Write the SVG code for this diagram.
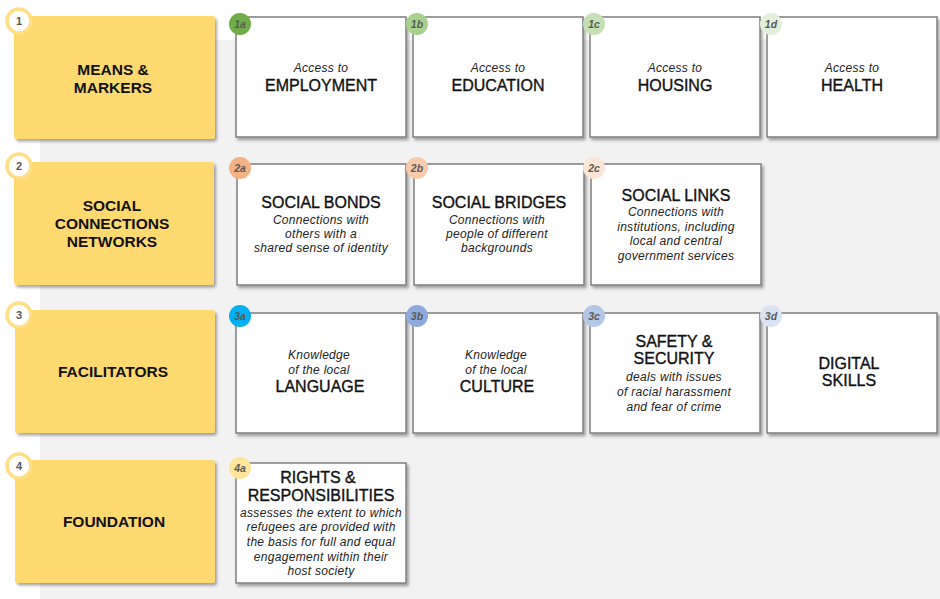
<svg xmlns="http://www.w3.org/2000/svg" width="940" height="599" viewBox="0 0 940 599">
  <defs>
    <filter id="shadow" x="-10%" y="-10%" width="125%" height="130%">
      <feDropShadow dx="2" dy="2.5" stdDeviation="1.5" flood-color="#000" flood-opacity="0.35"/>
    </filter>
    <style>
      .bg { fill: #f2f2f2; }
      .pillar { fill: #fdd96f; filter: url(#shadow); }
      .card { fill: #ffffff; stroke: #7f7f7f; stroke-width: 1.5; filter: url(#shadow); }
      .num { fill: #ffffff; stroke: #fedf86; stroke-width: 3.5; }
      .num-t { font-family: "Liberation Sans", Arial, sans-serif; font-size: 11px; font-weight: bold; fill: #595959; text-anchor: middle; }
      .tag-t { font-family: "Liberation Sans", Arial, sans-serif; font-size: 10.5px; font-weight: bold; font-style: italic; fill: #595959; text-anchor: middle; }
      .pillar-t { font-family: "Liberation Sans", Arial, sans-serif; font-size: 15.5px; font-weight: bold; fill: #111; text-anchor: middle; }
      .head { font-family: "Liberation Sans", Arial, sans-serif; font-size: 16px; fill: #111; stroke: #111; stroke-width: 0.35; text-anchor: middle; }
      .sub { font-family: "Liberation Sans", Arial, sans-serif; font-size: 12px; letter-spacing: 0.3px; font-style: italic; fill: #222; text-anchor: middle; }
    </style>
  </defs>

  <rect class="bg" x="40" y="40" width="900" height="559"/>

  <!-- Row 1: Means & Markers -->
  <g id="pillar-1">
    <rect class="pillar" x="14" y="16" width="201" height="123" rx="3"/>
    <circle class="num" cx="19" cy="21" r="12"/>
    <text class="num-t" x="19" y="25">1</text>
    <text class="pillar-t" x="113" y="75">MEANS &amp;</text>
    <text class="pillar-t" x="113" y="93">MARKERS</text>
  </g>
  <g id="domain-1a">
    <rect class="card" x="236" y="17" width="170" height="120"/>
    <circle cx="240" cy="24" r="11" fill="#70ad47"/>
    <text class="tag-t" x="240" y="27.5">1a</text>
    <text class="sub" x="321" y="72">Access to</text>
    <text class="head" x="321" y="91">EMPLOYMENT</text>
  </g>
  <g id="domain-1b">
    <rect class="card" x="413" y="17" width="170" height="120"/>
    <circle cx="417" cy="24" r="11" fill="#a9d18e"/>
    <text class="tag-t" x="417" y="27.5">1b</text>
    <text class="sub" x="498" y="72">Access to</text>
    <text class="head" x="498" y="91">EDUCATION</text>
  </g>
  <g id="domain-1c">
    <rect class="card" x="590" y="17" width="170" height="120"/>
    <circle cx="594" cy="24" r="11" fill="#c5e0b4"/>
    <text class="tag-t" x="594" y="27.5">1c</text>
    <text class="sub" x="675" y="72">Access to</text>
    <text class="head" x="675" y="91">HOUSING</text>
  </g>
  <g id="domain-1d">
    <rect class="card" x="767" y="17" width="170" height="120"/>
    <circle cx="771" cy="24" r="11" fill="#e2f0d9"/>
    <text class="tag-t" x="771" y="27.5">1d</text>
    <text class="sub" x="852" y="72">Access to</text>
    <text class="head" x="852" y="91">HEALTH</text>
  </g>

  <!-- Row 2: Social connections -->
  <g id="pillar-2">
    <rect class="pillar" x="14" y="162" width="200" height="123" rx="3"/>
    <circle class="num" cx="19" cy="166" r="12"/>
    <text class="num-t" x="19" y="170">2</text>
    <text class="pillar-t" x="112" y="211">SOCIAL</text>
    <text class="pillar-t" x="112" y="229">CONNECTIONS</text>
    <text class="pillar-t" x="112" y="247">NETWORKS</text>
  </g>
  <g id="domain-2a">
    <rect class="card" x="237" y="164" width="169" height="121"/>
    <circle cx="240" cy="168" r="11" fill="#f4b183"/>
    <text class="tag-t" x="240" y="171.5">2a</text>
    <text class="head" x="321" y="208">SOCIAL BONDS</text>
    <text class="sub" x="321" y="224">Connections with</text>
    <text class="sub" x="321" y="238">others with a</text>
    <text class="sub" x="321" y="252">shared sense of identity</text>
  </g>
  <g id="domain-2b">
    <rect class="card" x="414" y="164" width="170" height="121"/>
    <circle cx="417" cy="168" r="11" fill="#f8cbad"/>
    <text class="tag-t" x="417" y="171.5">2b</text>
    <text class="head" x="499" y="208">SOCIAL BRIDGES</text>
    <text class="sub" x="497" y="224">Connections with</text>
    <text class="sub" x="497" y="238">people of different</text>
    <text class="sub" x="497" y="252">backgrounds</text>
  </g>
  <g id="domain-2c">
    <rect class="card" x="591" y="164" width="170" height="121"/>
    <circle cx="594" cy="168" r="11" fill="#fbe5d6"/>
    <text class="tag-t" x="594" y="171.5">2c</text>
    <text class="head" x="676" y="201">SOCIAL LINKS</text>
    <text class="sub" x="676" y="216">Connections with</text>
    <text class="sub" x="676" y="231">institutions, including</text>
    <text class="sub" x="676" y="245">local and central</text>
    <text class="sub" x="676" y="260">government services</text>
  </g>

  <!-- Row 3: Facilitators -->
  <g id="pillar-3">
    <rect class="pillar" x="15" y="310" width="200" height="123" rx="3"/>
    <circle class="num" cx="19" cy="315" r="12"/>
    <text class="num-t" x="19" y="319">3</text>
    <text class="pillar-t" x="113" y="377">FACILITATORS</text>
  </g>
  <g id="domain-3a">
    <rect class="card" x="236" y="313" width="170" height="120"/>
    <circle cx="240" cy="316" r="11" fill="#00b0f0"/>
    <text class="tag-t" x="240" y="319.5">3a</text>
    <text class="sub" x="319" y="359">Knowledge</text>
    <text class="sub" x="319" y="374">of the local</text>
    <text class="head" x="320" y="392">LANGUAGE</text>
  </g>
  <g id="domain-3b">
    <rect class="card" x="413" y="313" width="170" height="120"/>
    <circle cx="417" cy="316" r="11" fill="#8faadc"/>
    <text class="tag-t" x="417" y="319.5">3b</text>
    <text class="sub" x="496" y="359">Knowledge</text>
    <text class="sub" x="496" y="374">of the local</text>
    <text class="head" x="497" y="392">CULTURE</text>
  </g>
  <g id="domain-3c">
    <rect class="card" x="590" y="313" width="170" height="120"/>
    <circle cx="594" cy="316" r="11" fill="#b4c7e7"/>
    <text class="tag-t" x="594" y="319.5">3c</text>
    <text class="head" x="674" y="347">SAFETY &amp;</text>
    <text class="head" x="674" y="364">SECURITY</text>
    <text class="sub" x="674" y="381">deals with issues</text>
    <text class="sub" x="674" y="396">of racial harassment</text>
    <text class="sub" x="674" y="411">and fear of crime</text>
  </g>
  <g id="domain-3d">
    <rect class="card" x="767" y="313" width="170" height="120"/>
    <circle cx="771" cy="316" r="11" fill="#dae3f3"/>
    <text class="tag-t" x="771" y="319.5">3d</text>
    <text class="head" x="849" y="369">DIGITAL</text>
    <text class="head" x="849" y="386">SKILLS</text>
  </g>

  <!-- Row 4: Foundation -->
  <g id="pillar-4">
    <rect class="pillar" x="15" y="460" width="200" height="123" rx="3"/>
    <circle class="num" cx="19" cy="466" r="12"/>
    <text class="num-t" x="19" y="470">4</text>
    <text class="pillar-t" x="114" y="527">FOUNDATION</text>
  </g>
  <g id="domain-4a">
    <rect class="card" x="236" y="463" width="170" height="120"/>
    <circle cx="240" cy="468" r="11" fill="#fee599"/>
    <text class="tag-t" x="240" y="471.5">4a</text>
    <text class="head" x="318" y="483">RIGHTS &amp;</text>
    <text class="head" x="321" y="501">RESPONSIBILITIES</text>
    <text class="sub" x="321" y="517">assesses the extent to which</text>
    <text class="sub" x="321" y="531">refugees are provided with</text>
    <text class="sub" x="321" y="546">the basis for full and equal</text>
    <text class="sub" x="321" y="561">engagement within their</text>
    <text class="sub" x="321" y="575">host society</text>
  </g>

  <!-- no connectors in this layout -->
  <g id="connectors"/>
</svg>
